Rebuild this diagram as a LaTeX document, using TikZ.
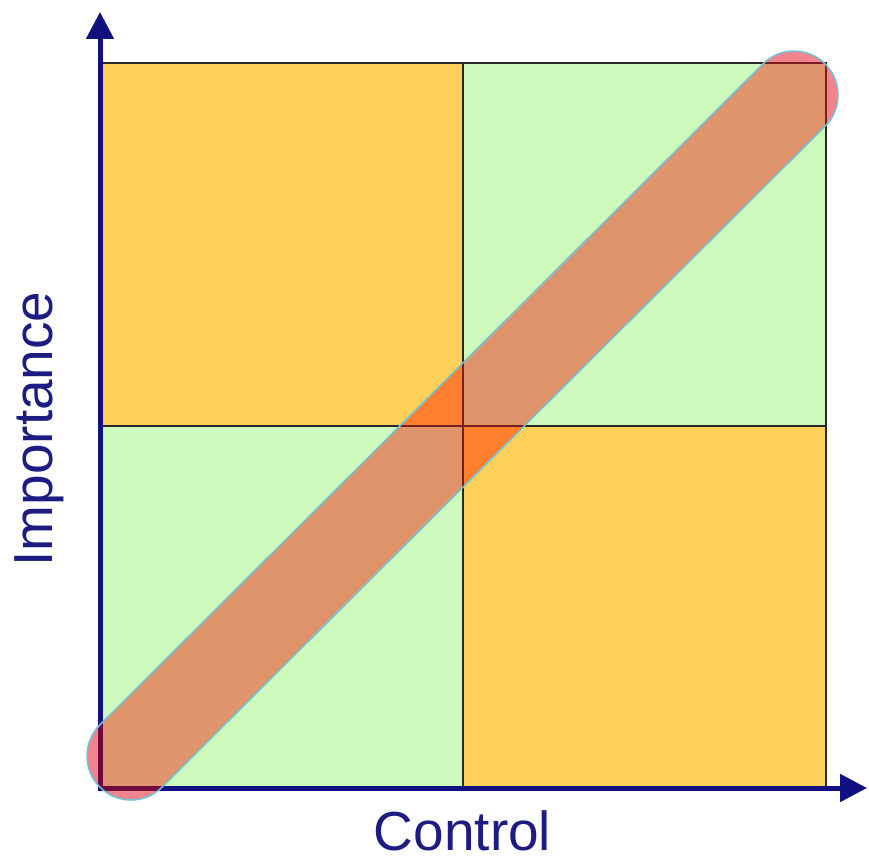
\documentclass[tikz,border=0pt]{standalone}
\usepackage{fontspec}
\setmainfont{Liberation Sans}
\usetikzlibrary{arrows.meta}
\definecolor{quadY}{RGB}{255,209,90}
\definecolor{quadG}{RGB}{205,249,188}
\definecolor{bandW}{RGB}{242,132,142}
\definecolor{bandG}{RGB}{224,148,108}
\definecolor{bandY}{RGB}{255,128,46}
\definecolor{bandEdge}{RGB}{112,196,214}
\definecolor{gridC}{RGB}{40,40,40}
\definecolor{gridB}{RGB}{120,30,30}
\definecolor{axisC}{RGB}{16,16,128}
\definecolor{axisB}{RGB}{110,10,60}
\definecolor{textC}{RGB}{28,28,130}
\tikzset{
  bandshape/.style={shift={(131,99)},rotate=44.91,
    insert path={(0,-44) -- (936.2,-44) arc[start angle=-90,end angle=90,radius=44]
      -- (0,44) arc[start angle=90,end angle=270,radius=44] -- cycle}},
  gridline/.style={line width=2pt},
  axisline/.style={line width=5pt,-{Triangle[length=27pt,width=27pt]}},
  axislabel/.style={text=textC,font=\fontsize{55}{60}\selectfont,inner sep=0pt}
}
\begin{document}
\begin{tikzpicture}[x=1pt,y=1pt]
\useasboundingbox (0,0) rectangle (869,855);
% quadrants
\fill[quadY] (100,429.5) rectangle (462.5,792);
\fill[quadG] (462.5,429.5) rectangle (826,792);
\fill[quadG] (100,67) rectangle (462.5,429.5);
\fill[quadY] (462.5,67) rectangle (826,429.5);
% band
\fill[bandshape,fill=bandW];
\begin{scope}
  \clip (100,67) rectangle (826,792);
  \fill[bandshape,fill=bandG];
\end{scope}
\begin{scope}
  \clip (100,429.5) rectangle (462.5,792) (462.5,67) rectangle (826,429.5);
  \fill[bandshape,fill=bandY];
\end{scope}
% grid
\coordinate (O) at (100,67);
\coordinate (TL) at (100,792);
\coordinate (TR) at (826,792);
\coordinate (BR) at (826,67);
\coordinate (MT) at (462.5,792);
\coordinate (MB) at (462.5,67);
\coordinate (ML) at (100,429.5);
\coordinate (MR) at (826,429.5);
\coordinate (Ytip) at (100,843);
\coordinate (Ybase) at (100,64.5);
\coordinate (Xtip) at (867,67);
\coordinate (Xbase) at (97.5,67);
\draw[gridline,draw=gridC] (TL) -- (TR) -- (BR) (MT) -- (MB) (ML) -- (MR);
\draw[axisline,draw=axisC,fill=axisC] (Ybase) -- (Ytip);
\draw[axisline,draw=axisC,fill=axisC] (Xbase) -- (Xtip);
% lines seen through the band
\begin{scope}
  \clip[bandshape];
  \draw[gridline,draw=gridB] (TL) -- (TR) -- (BR) (MT) -- (MB) (ML) -- (MR);
  \draw[line width=5pt,draw=axisB] (Ybase) -- (TL) (Xbase) -- (BR);
\end{scope}
\draw[bandshape,draw=bandEdge,line width=1.5pt];
% labels
\node[axislabel,anchor=base] (xlab) at (462.5,5) {Control};
\node[axislabel,anchor=base,rotate=90] (ylab) at (52,426) {Importance};
\end{tikzpicture}
\end{document}
